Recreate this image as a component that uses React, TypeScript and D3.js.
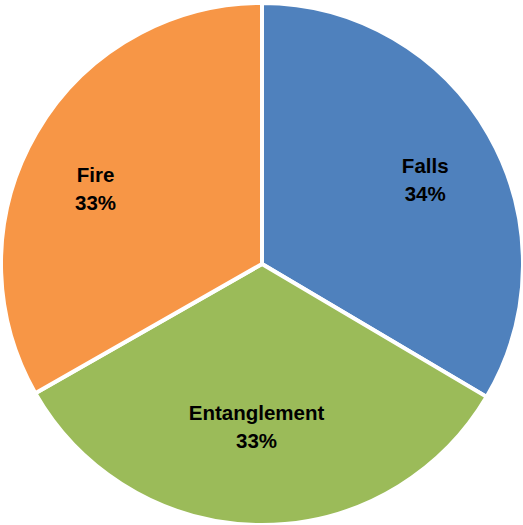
import React, { useEffect, useRef } from "react";
import * as d3 from "d3";

const categories = ["Falls", "Entanglement", "Fire"];
const values = [33.5, 33.25, 33.25];
const colors = ["#4F81BD", "#9BBB59", "#F79646"];

const W = 523;
const H = 525;

export default function App() {
  const ref = useRef<SVGSVGElement | null>(null);
  useEffect(() => {
    const svg = d3.select(ref.current);
    svg.selectAll("*").remove();
    const cx = 262;
    const cy = 264;
    const R = 261;
    const total = d3.sum(values);
    const pie = d3.pie<number>().sort(null).value((d) => d);
    const arcs = pie(values);
    const arc = d3.arc<d3.PieArcDatum<number>>().innerRadius(0).outerRadius(R);
    const g = svg.append("g").attr("transform", `translate(${cx},${cy})`);
    g.selectAll("path")
      .data(arcs)
      .join("path")
      .attr("d", arc as any)
      .attr("fill", (_, i) => colors[i])
      .attr("stroke", "#fff")
      .attr("stroke-width", 4)
      .attr("stroke-linejoin", "round");
    const labels = g
      .selectAll("text")
      .data(arcs)
      .join("text")
      .attr("text-anchor", "middle")
      .attr("font-family", "'Liberation Sans', Arial, sans-serif")
      .attr("font-weight", "bold")
      .attr("font-size", 20.5)
      .attr("fill", "#000")
      .attr("transform", (d) => {
        const a = (d.startAngle + d.endAngle) / 2;
        const s = Math.sin(a);
        const x = 0.72 * R * s + (s > 0 ? 0 : -4);
        const y = -0.62 * R * Math.cos(a) - 6 * s;
        return `translate(${x},${y})`;
      });
    labels
      .append("tspan")
      .attr("x", 0)
      .attr("dy", -6)
      .text((_, i) => categories[i]);
    labels
      .append("tspan")
      .attr("x", 0)
      .attr("dy", 28)
      .text((d) => `${Math.round((d.value / total) * 100)}%`);
  }, []);
  return (
    <div style={{ position: "absolute", left: 0, top: 0 }}>
      <svg ref={ref} width={W} height={H} style={{ display: "block" }} />
    </div>
  );
}
